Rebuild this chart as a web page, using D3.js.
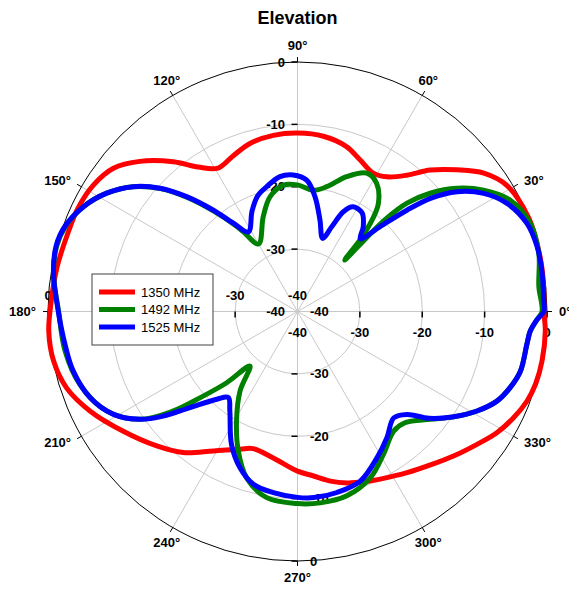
<!DOCTYPE html>
<html>
<head>
<meta charset="utf-8">
<script src="https://cdn.jsdelivr.net/npm/d3@7"></script>
<style>
  body { margin: 0; background: #fff; }
  svg { font-family: "Liberation Sans", Arial, sans-serif; }
</style>
</head>
<body>
<svg id="polar-plot"></svg>
<script>
// Radial ticks (dB) and angular ticks (degrees)
const ringValues = [-40, -30, -20, -10, 0];
const angleTicks = [0, 30, 60, 90, 120, 150, 180, 210, 240, 270, 300, 330];
const seriesNames = ['1350 MHz', '1492 MHz', '1525 MHz'];

// 1350 MHz
const redAngles = [0, 4, 10, 15, 22, 31, 36.6, 41.6, 46.8, 51.3, 56.5, 61.3, 67.6, 73.6, 81.6,
  90, 97.8, 105.8, 112.5, 119, 124.5, 129.7, 136.4, 142.1, 148.3, 154.9, 161.5, 169.5, 177.3, 184.5,
  191.5, 198.3, 205.6, 214.5, 223.7, 231, 238.9, 247.4, 252.1, 260.6, 270, 275.6, 281, 286.1, 291.3,
  297.3, 304.2, 310.9, 317.2, 323.5, 328.7, 333.8, 338.7, 343, 348.6, 355.5];
const redDb = [-0.5, -0.4, -0.2, -0.1, 0, -0.8, -2.8, -5.8, -8.9, -12.0, -14.1, -14.7, -13.7, -12.4, -11.6,
  -11.4, -11.5, -12.0, -13.0, -13.7, -11.9, -8.8, -5.1, -2.6, -1.5, -1.1, -1.1, -0.8, -0.5, 0,
  -0.1, -1.0, -3.1, -6.1, -8.8, -10.9, -13.9, -16.1, -16.9, -16.2, -14.4, -13.5, -12.3, -11.4, -10.7,
  -9.9, -8.75, -7.45, -5.9, -4.2, -2.6, -1.4, -0.5, -0.1, 0, -0.15];

// 1492 MHz
const greenAngles = [0, 5.9, 13.6, 20.8, 27.6, 33.1, 37.7, 41.7, 44.7, 46.5, 47.5, 49, 50.8, 53.2, 58.3,
  63.4, 70, 76.8, 82.6, 90, 96.4, 103.5, 109.8, 120, 124.2, 126, 129.7, 134, 138.1, 142.8, 148.2,
  153.9, 159.8, 164.8, 171.1, 180, 189.6, 198.5, 207.5, 214.4, 218.7, 221.5, 225.2, 228.9, 234.1, 240.9,
  247, 253, 260.6, 270, 276.8, 285, 293.7, 301.1, 308.8, 314, 320.9, 326, 331, 335.8, 340.3,
  345, 351.9, 355.2, 358];
const greenDb = [-0.8, -1.1, -0.2, -0.1, -1.5, -4.4, -7.7, -11.5, -15.3, -20.0, -28.8, -24.5, -21.1, -18.35, -15.85,
  -15.2, -17.0, -19.45, -20.4, -19.7, -19.6, -21.1, -23.8, -27.5, -24.5, -22.8, -19.2, -14.6, -10.5, -6.9, -4.0,
  -1.8, -0.4, 0, -0.4, -1.7, -2.2, -3.2, -5.5, -9.4, -14.5, -19.1, -23.9, -28.4, -24.3, -19.9,
  -15.7, -12.1, -9.75, -9.2, -9.1, -9.4, -10.9, -13.3, -15.4, -15.2, -12.6, -9.8, -7.1, -4.95, -3.8,
  -3.0, -2.85, -2.55, -1.6];

// 1525 MHz
const blueAngles = [0, 2.7, 8.9, 15.1, 21, 27.3, 32.4, 36.9, 40.4, 42.8, 45.8, 49.2, 52.2, 56.8, 62,
  65.3, 68, 71, 76.2, 81.3, 86, 91.8, 97.4, 103.9, 109, 114.3, 121.7, 126, 129.7, 134, 138.1,
  142.8, 148.2, 153.9, 159.8, 164.8, 171.1, 180, 188, 194.9, 202.6, 209.2, 214.4, 217.9, 221.8, 227.4,
  231.2, 235.8, 243.6, 249.8, 255.7, 262.4, 270, 275, 282.3, 290.3, 298.5, 305.3, 312.2, 316.8, 320.9,
  326, 331, 335.8, 340.3, 345, 351.9, 355.2, 358];
const blueDb = [-0.5, -0.5, -0.3, -0.2, -0.6, -2.2, -4.65, -8.0, -12.0, -16.1, -21.0, -24.6, -22.8, -21.1, -21.0,
  -22.4, -25.35, -27.6, -24.9, -21.4, -18.9, -18.1, -18.2, -19.4, -20.4, -22.3, -25.0, -22.5, -18.9, -14.4, -10.4,
  -6.9, -4.0, -1.8, -0.3, 0.1, -0.4, -1.65, -2.35, -2.8, -4.0, -6.2, -9.4, -12.7, -16.9, -20.9,
  -22.3, -20.7, -16.2, -13.3, -11.4, -10.7, -10.2, -10.05, -10.3, -11.0, -13.3, -15.2, -17.0, -15.9, -12.85,
  -9.8, -7.1, -4.95, -3.8, -3.0, -2.85, -2.55, -1.6];

const width = 569;
const height = 592;
const cx = 297.5;
const cy = 311.5;
const outerRadius = 249.5;

const series = [
  { name: seriesNames[0], color: '#ff0000', points: d3.zip(redAngles, redDb) },
  { name: seriesNames[1], color: '#008000', points: d3.zip(greenAngles, greenDb) },
  { name: seriesNames[2], color: '#0000ff', points: d3.zip(blueAngles, blueDb) },
];

const toRad = (deg) => deg * Math.PI / 180;

// dB -> pixel radius
const r = d3.scaleLinear().domain([-40, 0]).range([0, outerRadius]);

const vis = d3.select('#polar-plot')
  .attr('width', width)
  .attr('height', height);

const plot = vis.append('g').attr('transform', `translate(${cx}, ${cy})`);

// Grid rings (light grey) and outer circle (black)
plot.selectAll('.ring')
  .data(ringValues.filter((v) => v > -40 && v < 0))
  .join('circle')
  .attr('r', (d) => r(d))
  .attr('fill', 'none')
  .attr('stroke', '#c8c8c8')
  .attr('stroke-width', 1);

// Spokes every 30 degrees
plot.selectAll('.spoke')
  .data(angleTicks)
  .join('line')
  .attr('x1', 0)
  .attr('y1', 0)
  .attr('x2', (d) => outerRadius * Math.cos(toRad(d)))
  .attr('y2', (d) => -outerRadius * Math.sin(toRad(d)))
  .attr('stroke', '#c8c8c8')
  .attr('stroke-width', 1);

plot.append('circle')
  .attr('r', outerRadius)
  .attr('fill', 'none')
  .attr('stroke', '#000')
  .attr('stroke-width', 1);

// Short outward ticks at the angular labels
plot.selectAll('.angle-tick')
  .data(angleTicks)
  .join('line')
  .attr('x1', (d) => outerRadius * Math.cos(toRad(d)))
  .attr('y1', (d) => -outerRadius * Math.sin(toRad(d)))
  .attr('x2', (d) => (outerRadius + 5) * Math.cos(toRad(d)))
  .attr('y2', (d) => -(outerRadius + 5) * Math.sin(toRad(d)))
  .attr('stroke', '#000')
  .attr('stroke-width', 1);

// Radial axis ticks on the four main axes
const tickValues = ringValues.filter((v) => v > -40);
const ticks = plot.append('g').attr('stroke', '#000').attr('stroke-width', 1.5);
tickValues.forEach((v) => {
  const d = r(v);
  ticks.append('line').attr('x1', d).attr('x2', d).attr('y1', 0).attr('y2', 6);
  ticks.append('line').attr('x1', -d).attr('x2', -d).attr('y1', 0).attr('y2', 6);
  ticks.append('line').attr('x1', -6).attr('x2', 0).attr('y1', -d).attr('y2', -d);
  ticks.append('line').attr('x1', -6).attr('x2', 0).attr('y1', d).attr('y2', d);
});

// Radial axis labels: each axis puts them on its own side
const labelStyle = (sel) => sel
  .attr('font-size', 13)
  .attr('font-weight', 'bold')
  .attr('fill', '#000')
  .text((d) => d);

plot.append('g').selectAll('text').data(ringValues).join('text')
  .attr('x', (d) => r(d)).attr('y', 25).attr('text-anchor', 'middle')
  .call(labelStyle);
// on the left axis the legend box hides -20 and -10
plot.append('g').selectAll('text').data(ringValues.filter((v) => v < -20 || v === 0)).join('text')
  .attr('x', (d) => -r(d)).attr('y', -11.5).attr('text-anchor', 'middle')
  .call(labelStyle);
plot.append('g').selectAll('text').data(ringValues).join('text')
  .attr('x', -12.5).attr('y', (d) => -r(d)).attr('dy', '0.35em').attr('text-anchor', 'end')
  .call(labelStyle);
plot.append('g').selectAll('text').data(ringValues).join('text')
  .attr('x', 12.5).attr('y', (d) => r(d)).attr('dy', '0.35em').attr('text-anchor', 'start')
  .call(labelStyle);

// Angle labels just outside the outer circle
const angleLabelRadius = 261.5;
const capHeight = 9.4;
plot.append('g').selectAll('text').data(angleTicks).join('text')
  .attr('font-size', 13)
  .attr('font-weight', 'bold')
  .attr('text-anchor', 'middle')
  .attr('dy', '0.35em')
  .text((d) => `${d}°`)
  .each(function (d) {
    const c = Math.cos(toRad(d));
    const s = Math.sin(toRad(d));
    const w = this.getComputedTextLength();
    let x = angleLabelRadius * c;
    let y = -angleLabelRadius * s;
    // mostly horizontal directions push the label sideways, the rest up/down
    if (Math.abs(c) > Math.abs(s)) {
      x += Math.sign(c) * w / 2;
    } else {
      y -= Math.sign(s) * capHeight / 2;
    }
    d3.select(this).attr('x', x).attr('y', y);
  });

// Pattern curves (angle counter-clockwise from east)
const line = d3.lineRadial()
  .angle((d) => Math.PI / 2 - toRad(d[0]))
  .radius((d) => r(d[1]))
  .curve(d3.curveCatmullRomClosed.alpha(0.5));

plot.selectAll('.trace')
  .data(series)
  .join('path')
  .attr('d', (d) => line(d.points))
  .attr('fill', 'none')
  .attr('stroke', (d) => d.color)
  .attr('stroke-width', 5)
  .attr('stroke-linejoin', 'round');

// Title
vis.append('text')
  .attr('x', cx)
  .attr('y', 24)
  .attr('text-anchor', 'middle')
  .attr('font-size', 18)
  .attr('font-weight', 'bold')
  .text('Elevation');

// Legend
const legend = vis.append('g').attr('transform', 'translate(92, 274)');
legend.append('rect')
  .attr('width', 121)
  .attr('height', 71)
  .attr('fill', '#fff')
  .attr('stroke', '#404040')
  .attr('stroke-width', 1);

const entries = legend.selectAll('.entry')
  .data(series)
  .join('g')
  .attr('transform', (d, i) => `translate(0, ${18 + i * 17.5})`);

entries.append('line')
  .attr('x1', 7)
  .attr('x2', 43)
  .attr('stroke', (d) => d.color)
  .attr('stroke-width', 5);

entries.append('text')
  .attr('x', 49)
  .attr('dy', '0.35em')
  .attr('font-size', 13)
  .text((d) => d.name);
</script>
</body>
</html>
